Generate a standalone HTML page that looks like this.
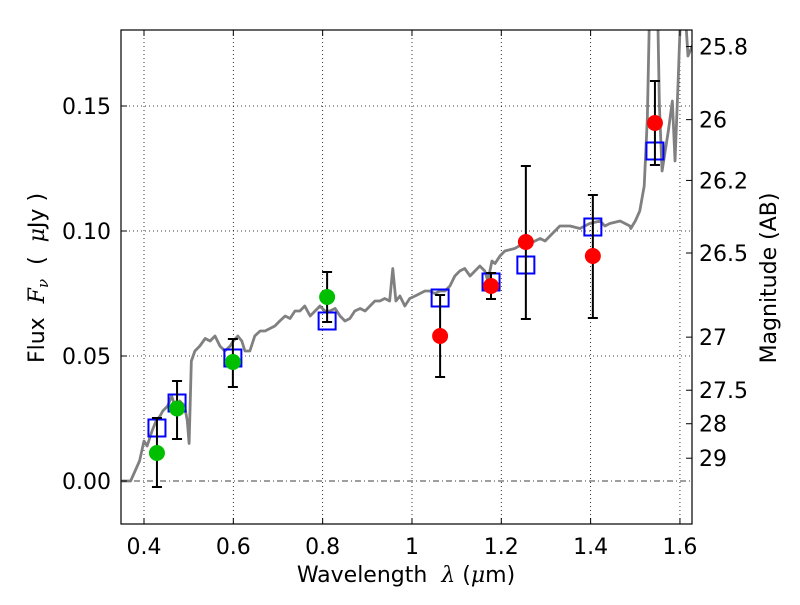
<!DOCTYPE html>
<html><head><meta charset="utf-8"><style>
body{margin:0;background:#fff;}
svg text{font-family:"DejaVu Sans","Liberation Sans",sans-serif;fill:#000;white-space:pre;}
</style></head><body>
<svg id="chart" width="800" height="600" xmlns="http://www.w3.org/2000/svg">
<defs><clipPath id="clip"><rect x="121" y="30" width="571" height="494"/></clipPath></defs>
<g id="grid"></g>
<g id="spec" clip-path="url(#clip)"></g>
<g id="marks" clip-path="url(#clip)"></g>
<rect x="121" y="30" width="571" height="494" fill="none" stroke="#000" stroke-width="1.2"/>
<g id="axes"></g>
<text x="406" y="582" font-size="22" text-anchor="middle">Wavelength  <tspan font-style="italic" font-family="DejaVu Serif,serif">λ</tspan> (<tspan font-style="italic" font-family="DejaVu Serif,serif">μ</tspan>m)</text>
<text transform="translate(44,278) rotate(-90)" font-size="22" text-anchor="middle">Flux  <tspan font-style="italic" font-family="DejaVu Serif,serif">F</tspan><tspan font-style="italic" font-size="15" dy="4" font-family="DejaVu Serif,serif">ν</tspan><tspan dy="-4">  (  </tspan><tspan font-style="italic" font-family="DejaVu Serif,serif">μ</tspan>Jy )</text>
<text transform="translate(776,278) rotate(-90)" font-size="22" text-anchor="middle">Magnitude (AB)</text>
</svg>
<script>
const xTicks=[0.4,0.6,0.8,1.0,1.2,1.4,1.6];
const xTickLabels=["0.4","0.6","0.8","1","1.2","1.4","1.6"];
const yTicks=[0,0.05,0.10,0.15];
const yTickLabels=["0.00","0.05","0.10","0.15"];
const magTicks=[25.8,26,26.2,26.5,27,27.5,28,29];
const magTickLabels=["25.8","26","26.2","26.5","27","27.5","28","29"];
const specWave=[0.35,0.37,0.39,0.40,0.407,0.418,0.427,0.436,0.442,0.453,0.462,0.471,0.48,0.491,0.497,0.501,0.506,0.51,0.514,0.525,0.537,0.548,0.559,0.57,0.581,0.593,0.60,0.61,0.619,0.626,0.637,0.648,0.66,0.671,0.682,0.693,0.704,0.716,0.727,0.738,0.749,0.76,0.772,0.783,0.794,0.805,0.816,0.828,0.839,0.85,0.861,0.872,0.884,0.895,0.906,0.917,0.928,0.939,0.95,0.957,0.964,0.973,0.984,0.995,1.007,1.018,1.029,1.04,1.051,1.063,1.074,1.085,1.096,1.107,1.118,1.13,1.141,1.152,1.163,1.17,1.179,1.186,1.197,1.208,1.23,1.24,1.264,1.287,1.298,1.309,1.331,1.354,1.376,1.398,1.421,1.432,1.443,1.466,1.488,1.49,1.5,1.51,1.52,1.527,1.531,1.536,1.538,1.55,1.554,1.56,1.567,1.574,1.583,1.589,1.596,1.6,1.605,1.611,1.618,1.63];
const specFlux=[0,0,0.008,0.016,0.014,0.02,0.024,0.026,0.028,0.030,0.034,0.029,0.032,0.030,0.024,0.015,0.048,0.050,0.052,0.054,0.057,0.056,0.058,0.054,0.052,0.054,0.056,0.058,0.056,0.052,0.052,0.058,0.060,0.060,0.061,0.062,0.064,0.066,0.065,0.068,0.068,0.070,0.066,0.068,0.070,0.068,0.068,0.069,0.066,0.064,0.065,0.068,0.069,0.068,0.070,0.072,0.072,0.073,0.072,0.085,0.072,0.074,0.070,0.073,0.074,0.075,0.076,0.076,0.075,0.076,0.076,0.078,0.082,0.084,0.085,0.082,0.084,0.086,0.084,0.080,0.088,0.087,0.090,0.092,0.093,0.094,0.095,0.097,0.096,0.098,0.102,0.102,0.101,0.103,0.104,0.102,0.103,0.104,0.102,0.101,0.104,0.108,0.118,0.145,0.18,0.20,0.20,0.19,0.15,0.124,0.132,0.14,0.152,0.128,0.16,0.18,0.19,0.19,0.17,0.175];
const greenWave=[0.429,0.474,0.599,0.81];
const greenFlux=[0.0112,0.029,0.0476,0.0736];
const greenLo=[-0.0024,0.0168,0.0376,0.0636];
const greenHi=[0.0252,0.040,0.0568,0.0836];
const redWave=[1.063,1.177,1.255,1.405,1.544];
const redFlux=[0.058,0.078,0.0956,0.090,0.1432];
const redLo=[0.0416,0.0728,0.0648,0.0652,0.1264];
const redHi=[0.0744,0.0832,0.126,0.1144,0.160];
const modelWave=[0.429,0.474,0.599,0.81,1.063,1.177,1.255,1.405,1.544];
const modelFlux=[0.0212,0.0312,0.0492,0.064,0.0732,0.0796,0.0864,0.1016,0.132];

const X0=121,X1=692,Y0=524,Y1=30,xmin=0.3485,xmax=1.627,ymin=-0.0172,ymax=0.1804;
const sx=v=>X0+(v-xmin)/(xmax-xmin)*(X1-X0);
const sy=v=>Y0-(v-ymin)/(ymax-ymin)*(Y0-Y1);
const NS="http://www.w3.org/2000/svg";
function mk(parent,tag,attrs){const e=document.createElementNS(NS,tag);for(const k in attrs)e.setAttribute(k,attrs[k]);document.getElementById(parent).appendChild(e);return e;}
xTicks.forEach((t,i)=>{
  const g=mk('grid','line',{x1:sx(t),x2:sx(t),y1:Y1,y2:Y0,stroke:'#000','stroke-width':0.8,'stroke-dasharray':'1,3'});
  
  
  const a=mk('axes','line',{x1:sx(t),x2:sx(t),y1:Y0,y2:Y0-6,stroke:'#000'});
  
  
  const b=mk('axes','line',{x1:sx(t),x2:sx(t),y1:Y1,y2:Y1+6,stroke:'#000'});
  
  
  const l=mk('axes','text',{x:sx(t),y:Y0+30,'font-size':22,'text-anchor':'middle'});
  l.textContent=xTickLabels[i];
  
  
});
yTicks.forEach((t,i)=>{
  const g=mk('grid','line',{x1:X0,x2:X1,y1:sy(t),y2:sy(t),stroke:'#000','stroke-width':0.8,'stroke-dasharray':t===0?'6,3,1,3':'1,3'});
  
  
  const a=mk('axes','line',{x1:X0,x2:X0+6,y1:sy(t),y2:sy(t),stroke:'#000'});
  
  
  const l=mk('axes','text',{x:X0-10,y:sy(t)+8,'font-size':22,'text-anchor':'end'});
  l.textContent=yTickLabels[i];
  
  
});
magTicks.forEach((m,i)=>{
  const f=Math.pow(10,(23.9-m)/2.5);
  const a=mk('axes','line',{x1:X1,x2:X1-6,y1:sy(f),y2:sy(f),stroke:'#000'});
  
  
  const l=mk('axes','text',{x:X1+7,y:sy(f)+8,'font-size':22});
  l.textContent=magTickLabels[i];
  
  
});
const p=mk('spec','polyline',{points:specWave.map((w,i)=>sx(w)+','+sy(specFlux[i])).join(' '),fill:'none',stroke:'#808080','stroke-width':2.8,'stroke-linejoin':'round'});


function errbar(w,lo,hi){
  const x=sx(w);
  const e=mk('marks','path',{d:`M${x},${sy(lo)}V${sy(hi)}M${x-5},${sy(lo)}H${x+5}M${x-5},${sy(hi)}H${x+5}`,stroke:'#000','stroke-width':2,fill:'none'});
  
  
}
modelWave.forEach((w,i)=>{
  const s=mk('marks','rect',{x:sx(w)-8.5,y:sy(modelFlux[i])-8.5,width:17,height:17,fill:'none',stroke:'#0000ff','stroke-width':2});
  
  
});
greenWave.forEach((w,i)=>{
  errbar(w,greenLo[i],greenHi[i]);
  const c=mk('marks','circle',{cx:sx(w),cy:sy(greenFlux[i]),r:8,fill:'#00bf00'});
  
  
});
redWave.forEach((w,i)=>{
  errbar(w,redLo[i],redHi[i]);
  const c=mk('marks','circle',{cx:sx(w),cy:sy(redFlux[i]),r:8,fill:'#ff0000'});
  
  
});
</script>
</body></html>
